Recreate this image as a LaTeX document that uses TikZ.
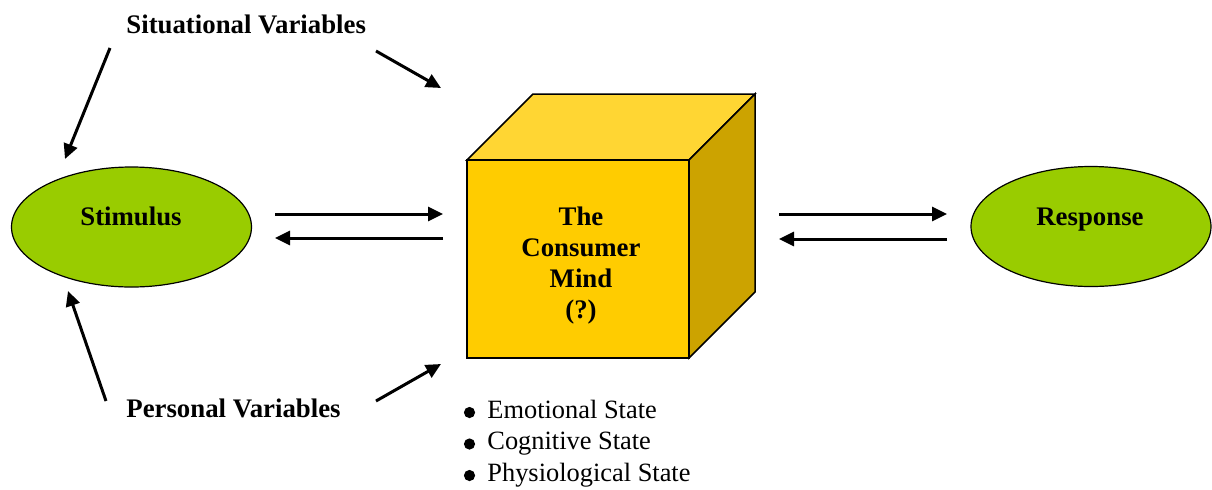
\documentclass[tikz,border=0pt]{standalone}
\usepackage{fontspec}
\setmainfont{Liberation Serif}
\usetikzlibrary{arrows.meta,shapes.geometric}
\definecolor{leaf}{HTML}{99CC00}
\definecolor{cubefront}{HTML}{FFCC00}
\definecolor{cubetop}{HTML}{FFD633}
\definecolor{cubeside}{HTML}{CCA300}
\begin{document}
\begin{tikzpicture}[x=0.5pt,y=-0.5pt,
  flow/.style={line width=1.5pt,-{Triangle[length=7.5pt,width=7pt]}},
  oval/.style={ellipse,draw=black,line width=0.6pt,fill=leaf,minimum width=120pt,minimum height=60pt,inner sep=0pt},
  face/.style={draw=black,line width=0.75pt,line join=miter},
  bold/.style={inner sep=0pt,font=\fontsize{13.4}{15.5}\selectfont\bfseries},
  plain/.style={inner sep=0pt,font=\fontsize{13.2}{15.75}\selectfont},
  dot/.style={circle,fill=black,inner sep=0pt,minimum size=5.6pt}]
\useasboundingbox (0,0) rectangle (1212,489);

% outcome ovals
\node[oval] (stim) at (131.5,227) {};
\node[bold,anchor=base] (stimtext) at (131,225) {Stimulus};
\node[oval] (resp) at (1091,226.5) {};
\node[bold,anchor=base] (resptext) at (1090,225) {Response};

% the cube
\path[face,fill=cubetop] (467,160) -- (533,94) -- (755,94) -- (689,160) -- cycle;
\path[face,fill=cubeside] (689,160) -- (755,94) -- (755,292) -- (689,358) -- cycle;
\path[face,fill=cubefront] (467,160) rectangle (689,358);
\node[bold,align=center] (mind) at (581,265.5) {The\\Consumer\\Mind\\(?)};

% influencing variables
\node[bold,anchor=base west] (sit) at (126,33) {Situational Variables};
\node[bold,anchor=base west] (pers) at (126,417) {Personal Variables};

% states listed under the cube
\node[dot] (d1) at (469.5,412.5) {};
\node[dot] (d2) at (469.5,444) {};
\node[dot] (d3) at (469.5,475.5) {};
\node[plain,anchor=base west] (s1) at (487,418) {Emotional State};
\node[plain,anchor=base west] (s2) at (487,449.5) {Cognitive State};
\node[plain,anchor=base west] (s3) at (487,481) {Physiological State};

% arrow end points
\coordinate (sitA) at (110,48);   \coordinate (sitAend) at (65,159);
\coordinate (sitB) at (376,51);   \coordinate (sitBend) at (441,88);
\coordinate (persA) at (106,401); \coordinate (persAend) at (68,291);
\coordinate (persB) at (376,401); \coordinate (persBend) at (441,364);
\coordinate (sl) at (275,214);  \coordinate (sr) at (443,214);
\coordinate (sl2) at (275,238); \coordinate (sr2) at (443,238);
\coordinate (rl) at (779,214);  \coordinate (rr) at (947,214);
\coordinate (rl2) at (779,239); \coordinate (rr2) at (947,239);

\draw[flow] (sitA) -- (sitAend);
\draw[flow] (sitB) -- (sitBend);
\draw[flow] (persA) -- (persAend);
\draw[flow] (persB) -- (persBend);
\draw[flow] (sl) -- (sr);
\draw[flow] (sr2) -- (sl2);
\draw[flow] (rl) -- (rr);
\draw[flow] (rr2) -- (rl2);
\end{tikzpicture}
\end{document}
